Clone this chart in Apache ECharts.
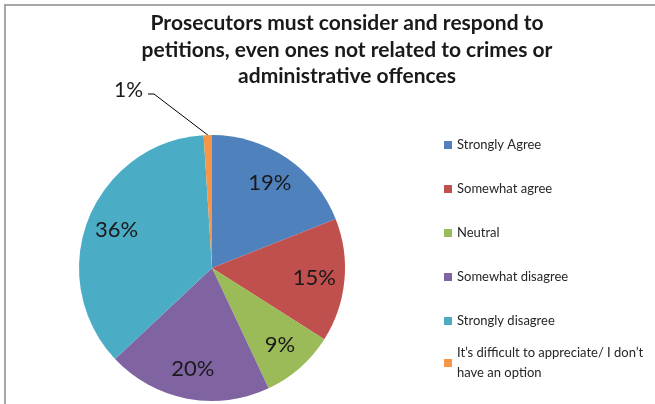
<!DOCTYPE html>
<html>
<head>
<meta charset="utf-8">
<script src="https://cdn.jsdelivr.net/npm/echarts@6/dist/echarts.min.js"></script>
<style>
  html, body { margin: 0; padding: 0; background: #fff; }
  #chart { width: 655px; height: 404px; }
</style>
</head>
<body>
<div id="chart"></div>
<script>
// answers, in drawing order (clockwise from 12 o'clock)
const answers = [
    'Strongly Agree',
    'Somewhat agree',
    'Neutral',
    'Somewhat disagree',
    'Strongly disagree',
    'It\u2019s difficult to appreciate/ I don\u2019t have an option'
]
const shares = [19, 15, 9, 20, 36, 1]
const colors = ['#4F81BD', '#C0504D', '#9BBB59', '#8064A2', '#4BACC6', '#F79646']

const titleText = 'Prosecutors must consider and respond to\npetitions, even ones not related to crimes or\nadministrative offences'

const FONT = 'Lato'
const CENTER = [212, 268]
const R = 133

let mainData = []
let labelData = []
answers.forEach((name, i) => {
    let small = shares[i] < 3
    mainData.push({
        name: name,
        value: shares[i],
        itemStyle: { color: colors[i] },
        label: { show: small },
        labelLine: { show: small }
    })
    labelData.push({
        name: name,
        value: shares[i],
        label: { show: !small }
    })
})

let option = {
    animation: false,
    title: {
        text: titleText,
        left: 342,
        top: 5,
        textAlign: 'center',
        textStyle: {
            fontFamily: FONT,
            fontSize: 21,
            fontWeight: 'bold',
            lineHeight: 26.5,
            color: '#1a1a1a'
        }
    },
    legend: [{
        orient: 'vertical',
        left: 444,
        top: 138,
        padding: 0,
        itemWidth: 8,
        itemHeight: 8,
        itemGap: 30,
        icon: 'rect',
        data: answers.slice(0, 5),
        textStyle: { fontFamily: FONT, fontSize: 13, color: '#262626', lineHeight: 14 }
    }, {
        orient: 'vertical',
        left: 444,
        top: 333,
        padding: 0,
        itemWidth: 8,
        itemHeight: 8,
        icon: 'rect',
        data: answers.slice(5),
        formatter: function (name) {
            return name.replace(' have', '\nhave')
        },
        textStyle: { fontFamily: FONT, fontSize: 13, color: '#262626', lineHeight: 20, padding: [20, 0, 0, 0] }
    }],
    graphic: [
        { type: 'line', shape: { x1: 4, y1: 5, x2: 655, y2: 5 }, style: { stroke: '#a6a6a6', lineWidth: 2 } },
        { type: 'line', shape: { x1: 5, y1: 5, x2: 5, y2: 404 }, style: { stroke: '#a6a6a6', lineWidth: 2 } }
    ],
    series: [{
        type: 'pie',
        center: CENTER,
        radius: [0, R],
        startAngle: 90,
        clockwise: true,
        avoidLabelOverlap: false,
        data: mainData,
        label: {
            position: 'outside',
            formatter: '{c}%',
            fontFamily: FONT,
            fontSize: 21,
            color: '#1a1a1a'
        },
        labelLine: {
            length: 20,
            length2: 6,
            lineStyle: { color: '#000', width: 1 }
        },
        labelLayout: function (params) {
            if (params.dataIndex !== 5) return
            // move the small slice's label up-left, keep the line anchored on the slice
            let lx = 143, ly = 90
            let anchor = params.labelLinePoints ? params.labelLinePoints[0] : [208, 136]
            return {
                x: lx,
                y: ly,
                align: 'right',
                verticalAlign: 'middle',
                labelLinePoints: [anchor, [lx + 11, ly + 4], [lx + 5, ly + 4]]
            }
        },
        emphasis: { disabled: true }
    }, {
        // transparent ring used only to place the percentages at ~3/4 of the radius
        type: 'pie',
        silent: true,
        center: CENTER,
        radius: [R / 2, R],
        startAngle: 90,
        clockwise: true,
        data: labelData,
        itemStyle: { color: 'rgba(0,0,0,0)' },
        label: {
            position: 'inside',
            formatter: '{c}%',
            fontFamily: FONT,
            fontSize: 22,
            color: '#1a1a1a'
        },
        labelLine: { show: false },
        emphasis: { disabled: true }
    }]
}

let chart = echarts.init(document.getElementById('chart'))
chart.setOption(option)
</script>
</body>
</html>
